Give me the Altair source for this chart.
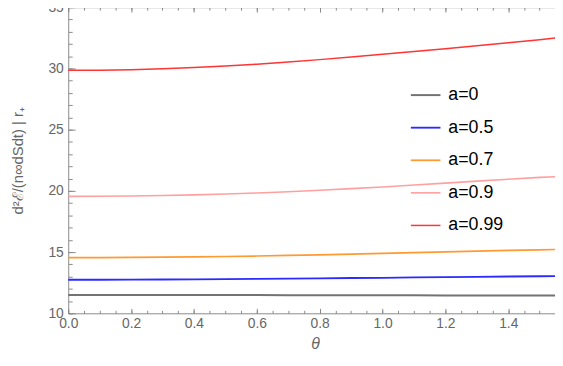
import altair as alt
import pandas as pd
import math

theta = [0.0, 0.1, 0.2, 0.3, 0.4, 0.5, 0.6, 0.7, 0.8, 0.9, 1.0, 1.1, 1.2, 1.3, 1.4, 1.5, 1.5708]
a0 = [11.50, 11.50, 11.50, 11.50, 11.49, 11.49, 11.49, 11.48, 11.48, 11.48, 11.47, 11.47, 11.46, 11.46, 11.46, 11.45, 11.45]
a05 = [12.74, 12.74, 12.75, 12.76, 12.77, 12.79, 12.81, 12.83, 12.85, 12.88, 12.90, 12.93, 12.96, 12.98, 13.01, 13.03, 13.04]
a07 = [14.54, 14.54, 14.56, 14.58, 14.61, 14.64, 14.68, 14.73, 14.78, 14.84, 14.90, 14.96, 15.02, 15.08, 15.14, 15.19, 15.22]
a09 = [19.55, 19.56, 19.58, 19.62, 19.67, 19.74, 19.83, 19.93, 20.05, 20.18, 20.32, 20.48, 20.63, 20.80, 20.95, 21.10, 21.18]
a099 = [29.85, 29.86, 29.90, 29.98, 30.07, 30.20, 30.35, 30.52, 30.72, 30.93, 31.15, 31.38, 31.60, 31.85, 32.10, 32.35, 32.56]

series = ["a=0", "a=0.5", "a=0.7", "a=0.9", "a=0.99"]
colors = ["#737373", "#2b2bff", "#ff9a33", "#ffa0a0", "#ff3434"]
widths = [2.0, 1.5, 1.5, 1.5, 1.5]

x_major = [0.0, 0.2, 0.4, 0.6, 0.8, 1.0, 1.2, 1.4]
x_minor = [round(i * 0.05, 2) for i in range(32)]
y_major = [10, 15, 20, 25, 30, 35]
y_minor = list(range(10, 36))

rows = []
for name, vals in zip(series, [a0, a05, a07, a09, a099]):
    for t, v in zip(theta, vals):
        rows.append({"theta": t, "value": v, "series": name})
df = pd.DataFrame(rows)

FONT = "Liberation Sans"
GRAY = "#8a8a8a"
LABEL = "#666666"

xs = alt.Scale(domain=[0, math.pi / 2], nice=False, zero=False)
ys = alt.Scale(domain=[10, 35], nice=False, zero=False)

base = alt.Chart(df)

ax_bottom = alt.Axis(orient="bottom", values=x_major, format=".1f", ticks=False, domain=True,
                     domainColor=GRAY, grid=False, labelFont=FONT, labelFontSize=14,
                     labelColor=LABEL, labelPadding=3, labelFlush=False, title="θ",
                     titleFont=FONT, titleFontStyle="italic", titleFontWeight="normal",
                     titleFontSize=16, titleColor=LABEL, titlePadding=6)
ax_left = alt.Axis(orient="left", values=y_major, ticks=False, domain=True, domainColor=GRAY,
                   grid=False, labelFont=FONT, labelFontSize=14, labelColor=LABEL,
                   labelPadding=5, minExtent=21, maxExtent=21,
                   title="d²ℰ/(n∞dSdt) | r₊", titleFont=FONT, titleFontWeight="normal",
                   titleFontSize=15, titleColor=LABEL, titlePadding=22)

lines = base.mark_line().encode(
    x=alt.X("theta:Q", scale=xs, axis=ax_bottom),
    y=alt.Y("value:Q", scale=ys, axis=ax_left),
    color=alt.Color("series:N", scale=alt.Scale(domain=series, range=colors),
                    legend=alt.Legend(orient="none", legendX=346, legendY=73, title=None,
                                      symbolType="stroke", symbolSize=900,
                                      symbolStrokeWidth=1.5, labelFont=FONT,
                                      labelFontSize=18, labelColor="black", labelOffset=7,
                                      rowPadding=8, padding=0)),
    strokeWidth=alt.StrokeWidth("series:N", scale=alt.Scale(domain=series, range=widths),
                                legend=None),
    order="theta:Q",
)


def tick_axis(orient, values, size, offset, domain=False):
    return alt.Axis(orient=orient, values=values, labels=False, domain=domain, grid=False,
                    title="", tickColor=GRAY, domainColor=GRAY, tickSize=size,
                    ticks=True, offset=offset, tickWidth=1)


def ghost(xaxis, yaxis):
    return base.mark_point(opacity=0).encode(
        x=alt.X("theta:Q", scale=xs, axis=xaxis),
        y=alt.Y("value:Q", scale=ys, axis=yaxis),
    )


layers = [
    lines,
    ghost(tick_axis("bottom", x_major, 5, -5), tick_axis("left", y_major, 7, -7)),
    ghost(tick_axis("bottom", x_minor, 3, -3), tick_axis("left", y_minor, 4, -4)),
    ghost(tick_axis("top", x_major, 5, -5), None),
    ghost(tick_axis("top", x_minor, 3, -3), None),
    ghost(tick_axis("top", x_major, 1, 0, domain=True), None),
]

chart = alt.layer(*layers).resolve_scale(x="shared", y="shared").resolve_axis(
    x="independent", y="independent"
).properties(
    width=554, height=346,
    autosize=alt.AutoSizeParams(type="fit", contains="padding"),
    padding={"left": 3, "top": -10, "right": -12, "bottom": 0},
    background="white",
).configure_view(stroke="transparent")

chart.save("out.html", embed_options={"renderer": "svg", "actions": False})
